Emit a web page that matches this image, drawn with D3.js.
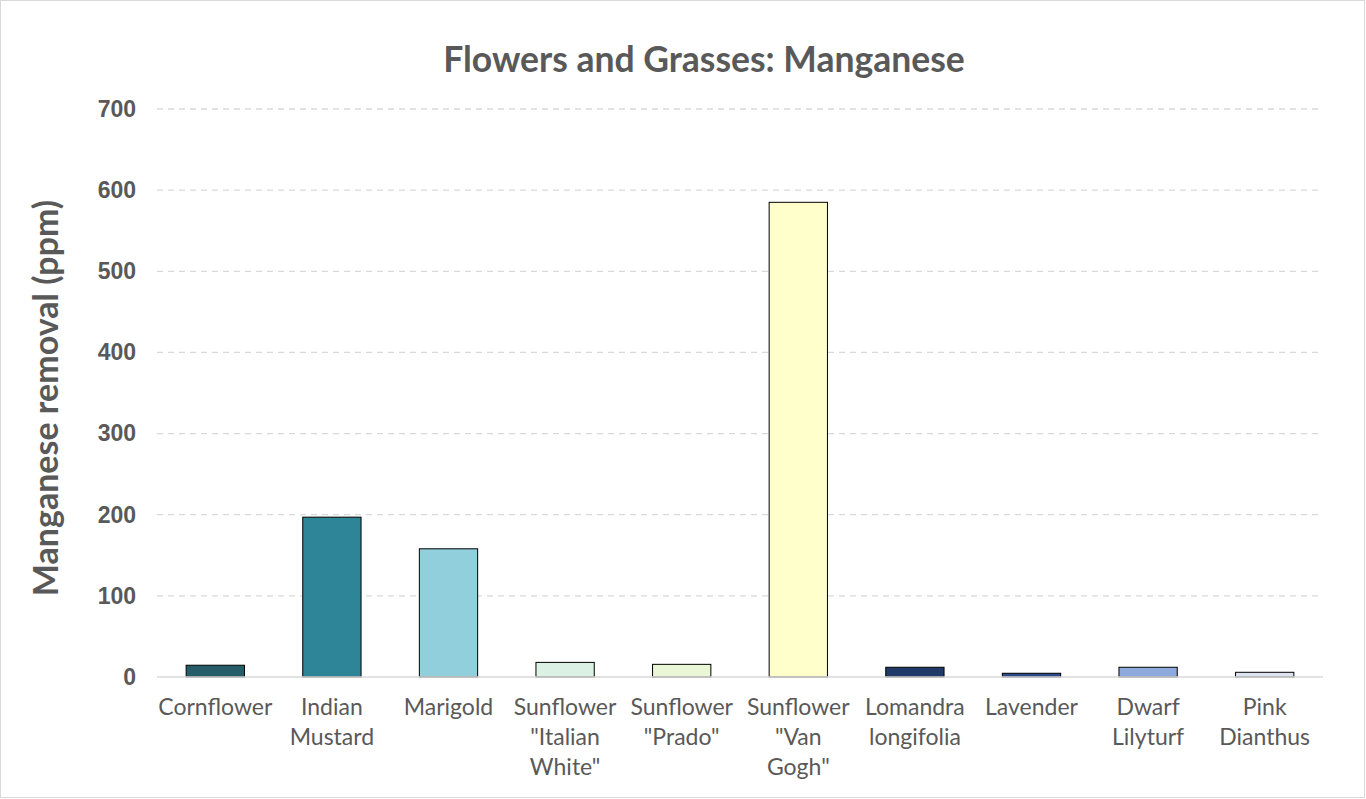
<!DOCTYPE html>
<html>
<head>
<meta charset="utf-8">
<script src="https://cdn.jsdelivr.net/npm/d3@7"></script>
<style>
    body { margin: 0; background: #fff; }
    svg { display: block; }
</style>
</head>
<body>
<div id="chart"></div>
<script>
// Chart data
const categories = [
    ["Cornflower"],
    ["Indian", "Mustard"],
    ["Marigold"],
    ["Sunflower", "\"Italian", "White\""],
    ["Sunflower", "\"Prado\""],
    ["Sunflower", "\"Van", "Gogh\""],
    ["Lomandra", "longifolia"],
    ["Lavender"],
    ["Dwarf", "Lilyturf"],
    ["Pink", "Dianthus"]
];
const values = [14.5, 197, 158, 18, 15.6, 585, 12, 4.6, 12, 5.8];
const barColors = ["#255e69", "#2e8597", "#91cfdc", "#daf1e4", "#e9f7d7",
                   "#ffffcc", "#1f3a68", "#2a4a88", "#8ea9db", "#dde3f0"];
const yTicks = [0, 100, 200, 300, 400, 500, 600, 700];

const width = 1366, height = 799;
const margin = { top: 109, right: 43, bottom: 122, left: 157 };
const textColor = "#595959";

let svg = d3.select("#chart").append("svg")
    .attr("width", width)
    .attr("height", height);

// outer border
svg.append("rect")
    .attr("x", 0.5).attr("y", 0.5)
    .attr("width", width - 2).attr("height", height - 2)
    .attr("fill", "#fff")
    .attr("stroke", "#d9d9d9");

let x = d3.scaleBand()
    .domain(d3.range(categories.length))
    .range([margin.left, width - margin.right])
    .paddingInner(0.5)
    .paddingOuter(0.25);

let y = d3.scaleLinear()
    .domain([0, 700])
    .range([height - margin.bottom, margin.top]);

// gridlines
svg.append("g")
    .selectAll("line")
    .data(yTicks.filter(t => t > 0))
    .enter().append("line")
    .attr("x1", margin.left)
    .attr("x2", width - margin.right)
    .attr("y1", d => y(d))
    .attr("y2", d => y(d))
    .attr("stroke", "#d9d9d9")
    .attr("stroke-width", 1.3)
    .attr("stroke-dasharray", "6,5");

// y axis tick labels
let yAxis = d3.axisLeft(y).tickValues(yTicks).tickSize(0).tickPadding(21);
let yg = svg.append("g")
    .attr("transform", `translate(${margin.left},0)`)
    .call(yAxis);
yg.select(".domain").remove();
yg.selectAll("text")
    .attr("fill", textColor)
    .style("font-family", "'Liberation Sans', Arial, sans-serif")
    .style("font-weight", "bold")
    .style("font-size", "23px");

// bars
svg.append("g")
    .selectAll("rect")
    .data(values)
    .enter().append("rect")
    .attr("x", (d, i) => x(i))
    .attr("y", d => y(d))
    .attr("width", x.bandwidth())
    .attr("height", d => y(0) - y(d))
    .attr("fill", (d, i) => barColors[i])
    .attr("stroke", "#000")
    .attr("stroke-width", 1);

// baseline
svg.append("line")
    .attr("x1", margin.left)
    .attr("x2", width - margin.right)
    .attr("y1", y(0))
    .attr("y2", y(0))
    .attr("stroke", "#d9d9d9")
    .attr("stroke-width", 1.3);

// category labels
let labels = svg.append("g")
    .selectAll("text")
    .data(categories)
    .enter().append("text")
    .attr("x", (d, i) => x(i) + x.bandwidth() / 2)
    .attr("y", y(0) + 38)
    .attr("text-anchor", "middle")
    .attr("fill", textColor)
    .style("font-family", "Lato, 'Open Sans', sans-serif")
    .style("font-size", "23px");

labels.selectAll("tspan")
    .data(d => d)
    .enter().append("tspan")
    .attr("x", function () { return d3.select(this.parentNode).attr("x"); })
    .attr("dy", (d, i) => i === 0 ? 0 : 30)
    .text(d => d);

// title
svg.append("text")
    .attr("x", 704)
    .attr("y", 72)
    .attr("text-anchor", "middle")
    .attr("fill", textColor)
    .style("font-family", "Lato, 'Open Sans', sans-serif")
    .style("font-weight", "bold")
    .style("font-size", "35.5px")
    .text("Flowers and Grasses: Manganese");

// y axis title
svg.append("text")
    .attr("transform", `translate(58,${(y(0) + y(700)) / 2 + 5}) rotate(-90)`)
    .attr("text-anchor", "middle")
    .attr("fill", textColor)
    .style("font-family", "Lato, 'Open Sans', sans-serif")
    .style("font-weight", "bold")
    .style("font-size", "34px")
    .text("Manganese removal (ppm)");
</script>
</body>
</html>
